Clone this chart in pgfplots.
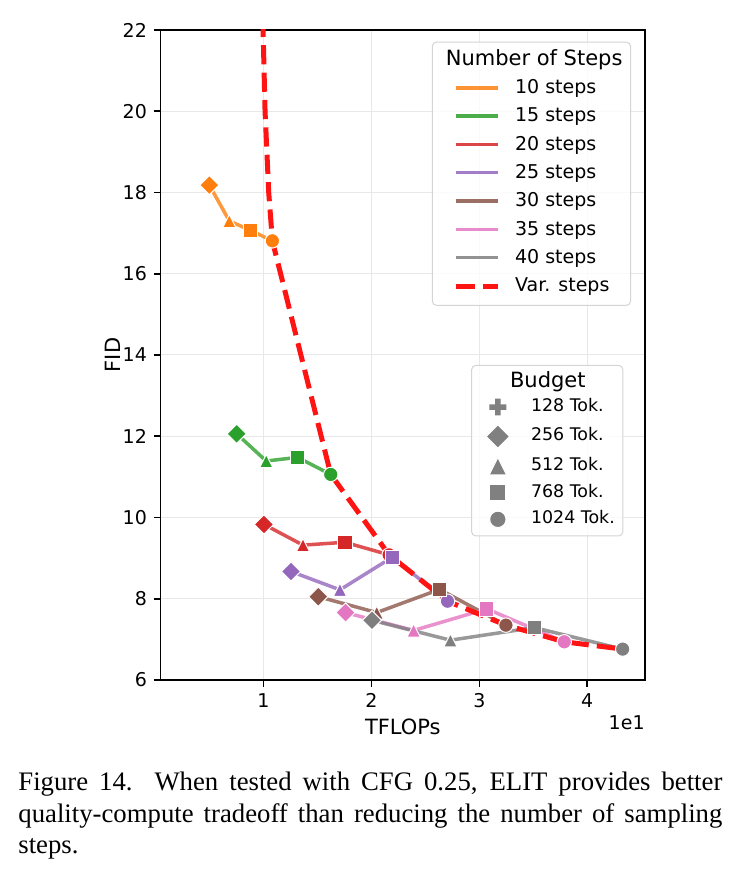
\documentclass[border=0pt]{standalone}
\usepackage{pgfplots}
\pgfplotsset{compat=1.18}
\usepackage{fontspec}
\setmainfont{DejaVu Sans}
\newfontfamily\capfont{Liberation Serif}
\definecolor{c10}{RGB}{255,127,14}
\definecolor{c15}{RGB}{44,160,44}
\definecolor{c20}{RGB}{214,39,40}
\definecolor{c25}{RGB}{148,103,189}
\definecolor{c30}{RGB}{140,86,75}
\definecolor{c35}{RGB}{227,119,194}
\definecolor{c40}{RGB}{127,127,127}
\definecolor{varc}{RGB}{255,20,20}
\definecolor{gridc}{RGB}{232,232,232}
\definecolor{legframe}{RGB}{212,212,212}
\definecolor{legmk}{RGB}{128,128,128}

\pgfdeclareplotmark{mpltri}{%
  \pgfpathmoveto{\pgfqpoint{0pt}{\pgfplotmarksize}}%
  \pgfpathlineto{\pgfqpoint{-\pgfplotmarksize}{-\pgfplotmarksize}}%
  \pgfpathlineto{\pgfqpoint{\pgfplotmarksize}{-\pgfplotmarksize}}%
  \pgfpathclose\pgfusepathqfillstroke}
\pgfdeclareplotmark{mplplus}{%
  \pgfmathsetlengthmacro\mpa{\pgfplotmarksize}%
  \pgfmathsetlengthmacro\mpb{0.33*\pgfplotmarksize}%
  \pgfpathmoveto{\pgfqpoint{-\mpa}{-\mpb}}%
  \pgfpathlineto{\pgfqpoint{-\mpa}{\mpb}}%
  \pgfpathlineto{\pgfqpoint{-\mpb}{\mpb}}%
  \pgfpathlineto{\pgfqpoint{-\mpb}{\mpa}}%
  \pgfpathlineto{\pgfqpoint{\mpb}{\mpa}}%
  \pgfpathlineto{\pgfqpoint{\mpb}{\mpb}}%
  \pgfpathlineto{\pgfqpoint{\mpa}{\mpb}}%
  \pgfpathlineto{\pgfqpoint{\mpa}{-\mpb}}%
  \pgfpathlineto{\pgfqpoint{\mpb}{-\mpb}}%
  \pgfpathlineto{\pgfqpoint{\mpb}{-\mpa}}%
  \pgfpathlineto{\pgfqpoint{-\mpb}{-\mpa}}%
  \pgfpathlineto{\pgfqpoint{-\mpb}{-\mpb}}%
  \pgfpathclose\pgfusepathqfill}

% one series: colour, then 256 / 512 / 768 / 1024 token points
\newcommand{\series}[5]{%
  \addplot[#1, line width=1.75pt, draw opacity=0.8, forget plot] coordinates {#2 #3 #4 #5};
  \addplot[only marks, forget plot, mark=square*, mark size=3.4pt,
    mark options={rotate=45, fill=#1, draw=white, line width=0.5pt}] coordinates {#2};
  \addplot[only marks, forget plot, mark=mpltri, mark size=3.3pt,
    mark options={fill=#1, draw=white, line width=0.5pt}] coordinates {#3};
  \addplot[only marks, forget plot, mark=square*, mark size=3.55pt,
    mark options={fill=#1, draw=white, line width=0.5pt}] coordinates {#4};
  \addplot[only marks, forget plot, mark=*, mark size=3.6pt,
    mark options={fill=#1, draw=white, line width=0.5pt}] coordinates {#5};
}

\begin{document}
\begin{tikzpicture}
\path[use as bounding box] (-80.35pt,-101.5pt) rectangle (289.65pt,340pt);
\begin{axis}[
  name=main,
  scale only axis, width=242.15pt, height=325pt,
  xmin=0.047, xmax=4.535, ymin=6, ymax=22,
  xtick={1,2,3,4}, ytick={6,8,10,12,14,16,18,20,22},
  grid=major, grid style={line width=0.5pt, draw=gridc},
  axis line style={line width=0.8pt},
  tick style={line width=0.8pt, black},
  major tick length=3.35pt, tick align=outside, tick pos=left,
  /pgf/number format/assume math mode=true,
  ticklabel style={font=\fontsize{9.5}{11}\selectfont, inner sep=0pt},
  xticklabel style={yshift=-3.35pt},
  yticklabel style={xshift=-3.35pt},
  xlabel={TFLOPs}, ylabel={FID},
  every axis x label/.style={at={(axis description cs:0.5,0)}, yshift=-23.25pt, anchor=center, font=\fontsize{10.5}{12}\selectfont},
  every axis y label/.style={at={(axis description cs:0,0.5)}, xshift=-23.85pt, anchor=center, rotate=90, font=\fontsize{10.5}{12}\selectfont},
  legend cell align=left,
  legend style={at={(1,1)}, anchor=north east, xshift=-7pt, yshift=-5.85pt,
    draw=legframe, line width=0.5pt, rounded corners=2pt, fill=white, fill opacity=0.8, text opacity=1,
    inner xsep=4pt, inner ysep=3.9pt, row sep=4.65pt, column sep=7.5pt,
    nodes={inner sep=0pt, text height=7pt, text depth=2.5pt, font=\fontsize{9.5}{11}\selectfont}},
  legend image code/.code={\path (-6.35pt,0pt) (21pt,0pt); \draw[sharp corners, #1] (0pt,0.6pt) -- (21pt,0.6pt);},
]
\series{c10}{(0.498,18.18)}{(0.683,17.30)}{(0.877,17.07)}{(1.082,16.81)}
\series{c15}{(0.751,12.06)}{(1.025,11.39)}{(1.315,11.48)}{(1.623,11.06)}
\series{c20}{(1.004,9.83)}{(1.366,9.32)}{(1.754,9.39)}{(2.164,9.08)}
\series{c25}{(1.255,8.67)}{(1.708,8.22)}{(2.192,9.02)}{(2.705,7.94)}
\series{c30}{(1.508,8.05)}{(2.049,7.66)}{(2.631,8.23)}{(3.246,7.35)}
\series{c35}{(1.760,7.66)}{(2.391,7.22)}{(3.069,7.75)}{(3.787,6.94)}
\series{c40}{(2.005,7.47)}{(2.732,6.98)}{(3.508,7.29)}{(4.328,6.76)}
\addplot[varc, line width=2.5pt, dash pattern=on 9.6pt off 4.1pt, forget plot] coordinates {
  (0.993,22.3) (1.014,20.0) (1.048,18.0) (1.082,16.81) (1.623,11.06)
  (2.164,9.08) (2.705,7.94) (3.246,7.35) (3.787,6.94) (4.328,6.76)};

\addlegendimage{legend image code/.code={}}
\addlegendentry[font=\fontsize{10.5}{12}\selectfont, text height=7.6pt, text depth=2.55pt]{\hspace*{-34.65pt}Number of Steps}
\addlegendimage{c10, line width=1.7pt, draw opacity=0.85}\addlegendentry{10 steps}
\addlegendimage{c15, line width=1.7pt, draw opacity=0.85}\addlegendentry{15 steps}
\addlegendimage{c20, line width=1.7pt, draw opacity=0.85}\addlegendentry{20 steps}
\addlegendimage{c25, line width=1.7pt, draw opacity=0.85}\addlegendentry{25 steps}
\addlegendimage{c30, line width=1.7pt, draw opacity=0.85}\addlegendentry{30 steps}
\addlegendimage{c35, line width=1.7pt, draw opacity=0.85}\addlegendentry{35 steps}
\addlegendimage{c40, line width=1.7pt, draw opacity=0.85}\addlegendentry{40 steps}
\addlegendimage{varc, line width=2.5pt, dash pattern=on 9.6pt off 4.1pt}\addlegendentry[text depth=2.9pt]{Var. steps}
\end{axis}
\node[anchor=base east, inner sep=0pt, font=\fontsize{9.5}{11}\selectfont] at ([yshift=-24.7pt]main.south east) {1e1};

\begin{axis}[
  scale only axis, width=242.15pt, height=325pt, hide axis,
  xmin=0, xmax=1, ymin=0, ymax=1,
  legend cell align=left,
  legend style={at={(1,1)}, anchor=north east, xshift=-10.85pt, yshift=-167.5pt,
    draw=legframe, line width=0.5pt, rounded corners=2pt, fill=white, fill opacity=0.8, text opacity=1,
    inner xsep=4pt, inner ysep=3.9pt, row sep=4.65pt, column sep=10.8pt,
    nodes={inner sep=0pt, text height=6.5pt, text depth=2pt, font=\fontsize{8.7}{10}\selectfont}},
  legend image code/.code={\path (-8.85pt,0pt) (5pt,0pt); \draw[sharp corners, fill opacity=1, draw opacity=1, #1] plot coordinates {(0pt,0pt)};},
]
\addplot[draw=none, forget plot] coordinates {(0.5,0.5)};
\addlegendimage{legend image code/.code={}}
\addlegendentry[font=\fontsize{10.5}{12}\selectfont, text height=7.3pt, text depth=0.7pt]{\hspace*{-10.5pt}Budget}
\addlegendimage{mark=mplplus, mark size=4.2pt, mark options={fill=legmk, draw=none}}\addlegendentry{128 Tok.}
\addlegendimage{mark=square*, mark size=4.1pt, mark options={rotate=45, fill=legmk, draw=white, line width=0.5pt}}\addlegendentry{256 Tok.}
\addlegendimage{mark=mpltri, mark size=4.4pt, mark options={fill=legmk, draw=white, line width=0.5pt}}\addlegendentry{512 Tok.}
\addlegendimage{mark=square*, mark size=4.0pt, mark options={fill=legmk, draw=white, line width=0.5pt}}\addlegendentry{768 Tok.}
\addlegendimage{mark=*, mark size=4.1pt, mark options={fill=legmk, draw=white, line width=0.5pt}}\addlegendentry[text depth=2.25pt]{1024 Tok.}
\end{axis}

\node[anchor=base west, inner sep=0pt] at (-71.35pt,-55pt) {\parbox[t]{352pt}{\capfont\fontsize{13.37pt}{16pt}\selectfont
Figure 14.\ \ When tested with CFG 0.25, ELIT provides better\linebreak
quality-compute tradeoff than reducing the number of sampling\linebreak
steps.}};
\end{tikzpicture}
\end{document}
